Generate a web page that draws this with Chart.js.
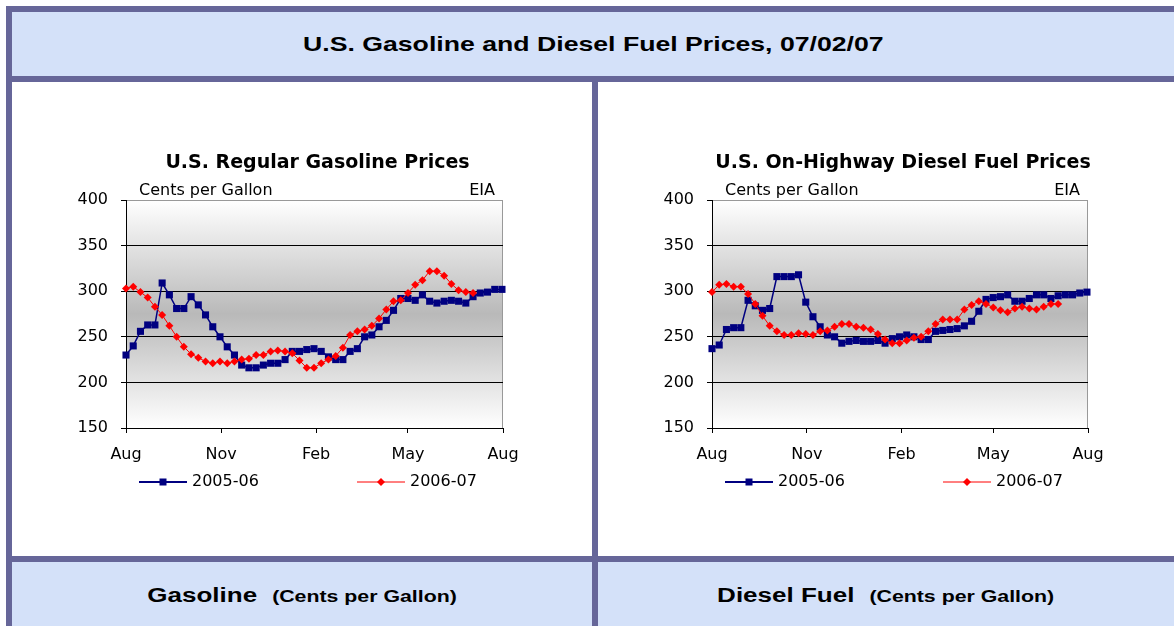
<!DOCTYPE html>
<html>
<head>
<meta charset="utf-8">
<script src="https://cdn.jsdelivr.net/npm/chart.js@4.4.1/dist/chart.umd.min.js"></script>
<style>
  html, body { margin: 0; padding: 0; background: #fff; width: 1174px; height: 626px; overflow: hidden; }
  .frame { position: absolute; left: 6px; top: 6px; width: 1168px; height: 620px; background: #666699; }
  .band { position: absolute; background: #d4e1f9; text-align: center; font-family: "Liberation Sans", Arial, sans-serif; font-weight: bold; color: #000; }
  .band span.txt { display: inline-block; transform: scaleX(1.3); transform-origin: center; white-space: nowrap; }
  .cell { position: absolute; background: #fff; }
  canvas { position: absolute; }
</style>
</head>
<body>
<div class="frame"></div>
<div class="band" style="left:12px; top:12px; width:1162px; height:64px; line-height:64px; font-size:20.5px;">
  <span class="txt">U.S. Gasoline and Diesel Fuel Prices, 07/02/07</span>
</div>
<div class="cell" style="left:12px; top:82px; width:580px; height:474px;"></div>
<div class="cell" style="left:598px; top:82px; width:576px; height:474px;"></div>
<canvas id="gasChart" width="580" height="474" style="left:12px; top:82px;"></canvas>
<canvas id="dieselChart" width="576" height="474" style="left:598px; top:82px;"></canvas>
<div class="band" style="left:12px; top:562px; width:580px; height:64px; line-height:66px;">
  <span class="txt"><span style="font-size:20px;">Gasoline</span><span style="font-size:16.4px; margin-left:7px;"> (Cents per Gallon)</span></span>
</div>
<div class="band" style="left:598px; top:562px; width:576px; height:64px; line-height:66px;">
  <span class="txt"><span style="font-size:20px;">Diesel Fuel</span><span style="font-size:16.4px; margin-left:7px;"> (Cents per Gallon)</span></span>
</div>

<script>
// U.S. Gasoline and Diesel Fuel Prices - weekly, cents per gallon

// x axis: days since Aug 1, month ticks
const monthTicks = [0, 92, 184, 273, 365];
const monthLabels = ['Aug', 'Nov', 'Feb', 'May', 'Aug'];
const weekStep = 7;
const seriesLabels = ['2005-06', '2006-07'];

// Regular gasoline
const gas0506 = [230, 240, 256, 263, 263, 309, 296, 281, 281, 294, 285, 274, 261, 250, 239, 230,
  219, 216, 216, 219, 221, 221, 225, 234, 234, 236, 237, 234, 228, 225, 225, 234, 237, 250,
  252, 261, 268, 279, 292, 292, 290, 296, 289, 287, 289, 290, 289, 287, 294, 298, 299, 302, 302];
const gas0607 = [303, 305, 299, 293, 283, 274, 262, 250, 239, 231, 227, 223, 221, 223, 221, 223,
  225, 226, 230, 230, 234, 235, 234, 232, 224, 216, 216, 221, 225, 229, 238, 252, 256, 258,
  262, 270, 280, 289, 290, 298, 307, 312, 322, 322, 317, 308, 301, 299, 298];

// On-highway diesel
const diesel0506 = [237, 241, 258, 260, 260, 290, 284, 279, 281, 316, 316, 316, 318, 288, 272, 261,
  252, 250, 243, 245, 246, 245, 245, 246, 243, 248, 250, 252, 250, 247, 247, 256, 257, 258,
  259, 262, 267, 278, 291, 293, 294, 296, 289, 289, 292, 296, 296, 292, 295, 296, 296, 298, 299];
const diesel0607 = [299, 307, 308, 305, 305, 297, 286, 273, 262, 256, 252, 252, 254, 253, 252, 256,
  257, 261, 264, 264, 261, 260, 258, 253, 247, 243, 243, 246, 249, 250, 256, 264, 269, 269,
  269, 280, 285, 289, 286, 282, 279, 277, 281, 283, 281, 280, 283, 286, 286];

const BLUE = '#000080';
const RED = '#ff0000';
const FONT = 'DejaVu Sans';

function toPoints(values) {
    return values.map((v, i) => ({ x: i * weekStep, y: v }));
}

// gradient plot background + grey right border
const plotBg = {
    id: 'plotBg',
    beforeDraw(chart) {
        const { ctx, chartArea: a } = chart;
        const g = ctx.createLinearGradient(0, a.top, 0, a.bottom);
        g.addColorStop(0, '#ffffff');
        g.addColorStop(0.5, '#b9b9b9');
        g.addColorStop(1, '#ffffff');
        ctx.save();
        ctx.fillStyle = g;
        ctx.fillRect(a.left, a.top, a.width, a.height);
        ctx.strokeStyle = '#999';
        ctx.lineWidth = 1;
        ctx.beginPath();
        ctx.moveTo(Math.round(a.right) - 0.5, a.top);
        ctx.lineTo(Math.round(a.right) - 0.5, a.bottom);
        ctx.stroke();
        ctx.restore();
    }
};

// title, unit notes and the legend
const chartText = {
    id: 'chartText',
    afterDraw(chart, args, opts) {
        const { ctx, chartArea: a } = chart;
        ctx.save();
        ctx.fillStyle = '#000';

        ctx.font = 'bold 19px "' + FONT + '"';
        ctx.textAlign = 'center';
        ctx.textBaseline = 'alphabetic';
        ctx.fillText(opts.title, (a.left + a.right) / 2 + 3, 86);

        ctx.font = '16px "' + FONT + '"';
        ctx.textAlign = 'left';
        ctx.fillText('Cents per Gallon', a.left + 13, 113);
        ctx.textAlign = 'right';
        ctx.fillText('EIA', a.right - 8, 113);

        // legend
        const ly = 400;
        const items = [
            { x: a.left + 13, color: BLUE, width: 2, label: seriesLabels[0], mark: 'rect' },
            { x: a.left + 231, color: RED, width: 1, label: seriesLabels[1], mark: 'diamond' }
        ];
        items.forEach(it => {
            ctx.strokeStyle = it.color;
            ctx.lineWidth = it.width;
            ctx.beginPath();
            ctx.moveTo(it.x, ly);
            ctx.lineTo(it.x + 48, ly);
            ctx.stroke();
            ctx.fillStyle = it.color;
            const cx = it.x + 24;
            if (it.mark === 'rect') {
                ctx.fillRect(cx - 3.5, ly - 3.5, 7, 7);
            } else {
                ctx.beginPath();
                ctx.moveTo(cx - 4, ly);
                ctx.lineTo(cx, ly - 4);
                ctx.lineTo(cx + 4, ly);
                ctx.lineTo(cx, ly + 4);
                ctx.closePath();
                ctx.fill();
            }
            ctx.fillStyle = '#000';
            ctx.font = '16px "' + FONT + '"';
            ctx.textAlign = 'left';
            ctx.textBaseline = 'middle';
            ctx.fillText(it.label, it.x + 53, ly);
        });
        ctx.restore();
    }
};

function makeChart(id, blueValues, redValues, title, rightPad) {
    const ctx = document.getElementById(id).getContext('2d');
    return new Chart(ctx, {
        type: 'line',
        data: {
            datasets: [{
                label: seriesLabels[0],
                data: toPoints(blueValues),
                borderColor: BLUE,
                backgroundColor: BLUE,
                borderWidth: 1.5,
                pointStyle: 'rect',
                pointRadius: 5,
                pointBorderWidth: 0,
                tension: 0,
                clip: false,
                order: 1
            }, {
                label: seriesLabels[1],
                data: toPoints(redValues),
                borderColor: RED,
                backgroundColor: RED,
                borderWidth: 1,
                pointStyle: 'rectRot',
                pointRadius: 4,
                pointBorderWidth: 0,
                tension: 0,
                clip: false,
                order: 0
            }]
        },
        options: {
            responsive: false,
            animation: false,
            events: [],
            layout: { padding: { top: 118, right: rightPad, left: 0, bottom: 0 } },
            plugins: {
                legend: { display: false },
                tooltip: { enabled: false },
                chartText: { title: title }
            },
            scales: {
                x: {
                    type: 'linear',
                    min: 0,
                    max: 365,
                    afterBuildTicks: (scale) => {
                        scale.ticks = monthTicks.map(v => ({ value: v }));
                    },
                    afterFit: (scale) => { scale.height = 128; },
                    ticks: {
                        callback: (value, index) => monthLabels[index],
                        autoSkip: false,
                        maxRotation: 0,
                        padding: 12,
                        color: '#000',
                        font: { family: FONT, size: 16 }
                    },
                    grid: { drawOnChartArea: false, tickLength: 5, color: '#000' },
                    border: { color: '#000', width: 1 }
                },
                y: {
                    min: 150,
                    max: 400,
                    afterFit: (scale) => { scale.width = 114; },
                    ticks: {
                        stepSize: 50,
                        padding: 13,
                        color: '#000',
                        font: { family: FONT, size: 16 }
                    },
                    grid: {
                        color: (c) => (c.tick && c.tick.value === 400 ? '#999' : '#000'),
                        tickColor: '#000',
                        tickLength: 5
                    },
                    border: { color: '#000', width: 1 }
                }
            }
        },
        plugins: [plotBg, chartText]
    });
}

makeChart('gasChart', gas0506, gas0607, 'U.S. Regular Gasoline Prices', 89);
makeChart('dieselChart', diesel0506, diesel0607, 'U.S. On-Highway Diesel Fuel Prices', 86);
</script>
</body>
</html>
